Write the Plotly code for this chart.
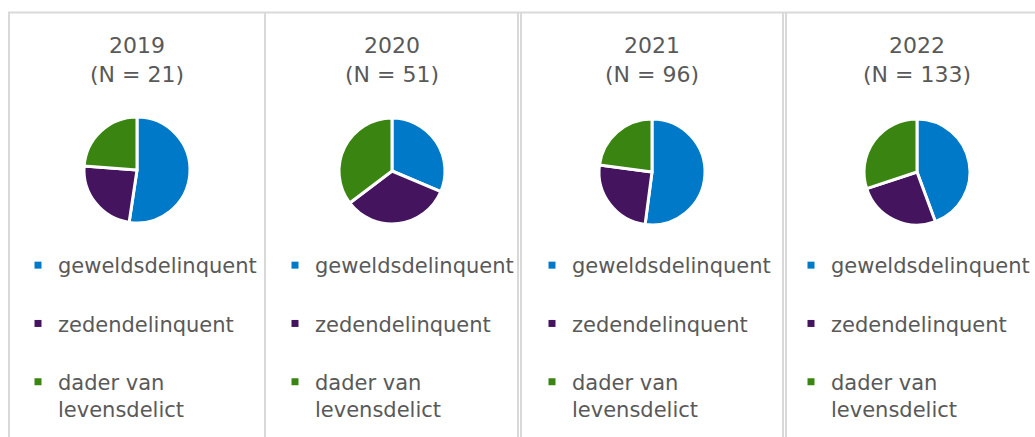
import plotly.graph_objects as go

years = ["2019", "2020", "2021", "2022"]
totals = [21, 51, 96, 133]
categories = ["geweldsdelinquent", "zedendelinquent", "dader van<br>levensdelict"]
geweld = [11, 16, 50, 59]
zeden = [5, 17, 24, 34]
levens = [5, 18, 22, 40]
colors = ["#0079C8", "#44155E", "#3A8512"]

W, H = 1035, 437
def fx(px):
    return px / W
def fy(py):
    return 1 - py / H

pie_cx = [137, 392, 652, 917]
pie_cy = [170, 171, 172, 172]
pie_r = 53
title_y = 60
legend_x = [18, 275, 532, W]
legend_anchor = ["left", "left", "left", "right"]
legend_top = 245
text_col = "#595959"
font_fam = "Verdana, DejaVu Sans, sans-serif"

fig = go.Figure()
for i, yr in enumerate(years):
    vals = [geweld[i], zeden[i], levens[i]]
    cx, cy = pie_cx[i], pie_cy[i]
    fig.add_trace(go.Pie(
        labels=categories, values=vals, sort=False, direction="clockwise",
        rotation=0, textinfo="none", showlegend=False,
        marker=dict(colors=colors, line=dict(color="white", width=3)),
        domain=dict(x=[fx(cx - pie_r), fx(cx + pie_r)],
                    y=[fy(cy + pie_r), fy(cy - pie_r)]),
        name=yr,
    ))
    lname = "legend" if i == 0 else f"legend{i+1}"
    for j, cat in enumerate(categories):
        fig.add_trace(go.Scatter(
            x=[None], y=[None], mode="markers", name=cat,
            marker=dict(symbol="square", size=7, color=colors[j]),
            legend=lname, legendgroup=f"{yr}-{j}", showlegend=True,
            hoverinfo="skip",
        ))
    fig.add_annotation(
        x=fx(cx), y=fy(title_y), xref="paper", yref="paper",
        text=f"{yr}<br>(N = {totals[i]})", showarrow=False,
        xanchor="center", yanchor="middle", align="center",
        font=dict(size=22, color=text_col, family=font_fam),
    )

legend_common = dict(
    traceorder="grouped", tracegroupgap=28, valign="top",
    font=dict(size=21, color=text_col, family=font_fam),
    bgcolor="rgba(0,0,0,0)", yanchor="top",
    itemwidth=30, itemclick=False, itemdoubleclick=False,
)
layout_legends = {}
for i in range(4):
    key = "legend" if i == 0 else f"legend{i+1}"
    layout_legends[key] = dict(x=fx(legend_x[i]), y=fy(legend_top),
                               xanchor=legend_anchor[i], **legend_common)

# panel frame lines
shapes = []
line_style = dict(color="#D9D9D9", width=2)
shapes.append(dict(type="line", xref="paper", yref="paper", x0=fx(8), x1=1,
                   y0=fy(12.5), y1=fy(12.5), line=line_style))
for xp in [9, 265, 518, 521, 783, 786]:
    shapes.append(dict(type="line", xref="paper", yref="paper", x0=fx(xp), x1=fx(xp),
                       y0=0, y1=fy(12.5), line=line_style))

fig.update_layout(
    width=W, height=H, margin=dict(l=0, r=0, t=0, b=0),
    paper_bgcolor="white", plot_bgcolor="white",
    xaxis=dict(visible=False), yaxis=dict(visible=False),
    shapes=shapes, **layout_legends,
)
fig.write_html(
    "out.html",
    config={"displayModeBar": False},
    post_script="document.body.style.margin='0px';document.body.style.overflow='hidden';"
                "document.documentElement.style.overflow='hidden';",
)
